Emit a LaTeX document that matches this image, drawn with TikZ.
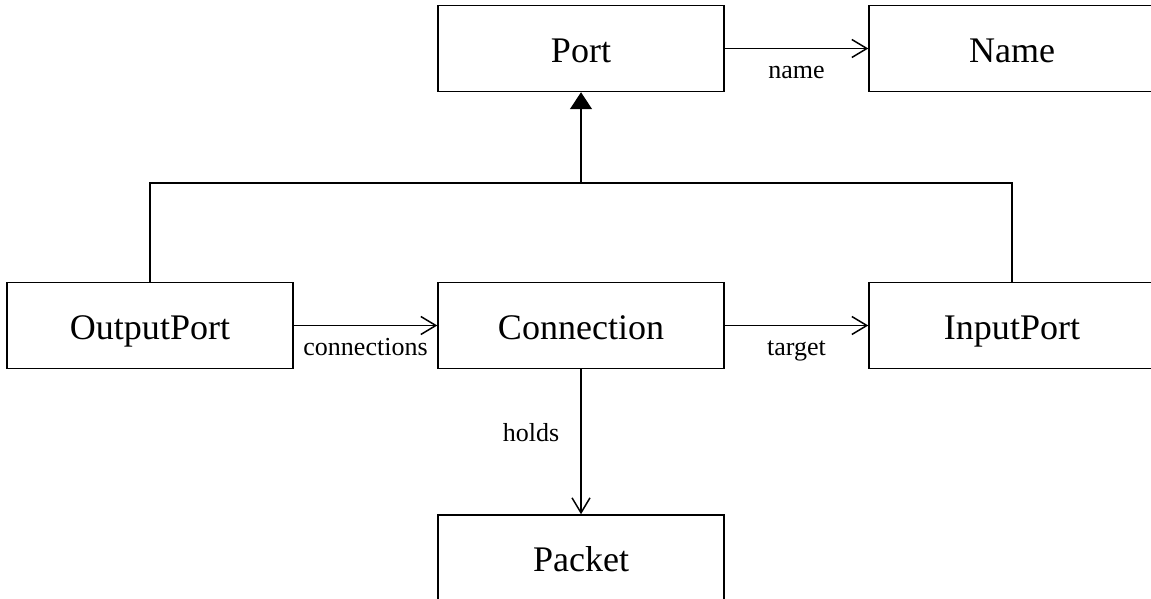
\documentclass[tikz,border=0pt]{standalone}
\usepackage{fontspec}
\setmainfont{Liberation Serif}
\usetikzlibrary{arrows.meta, positioning}

\tikzset{
  cls/.style={draw, line width=0.85pt, minimum width=5.72cm, minimum height=1.72cm,
              text height=18.5pt, text depth=3.1pt,
              font=\fontsize{20.5}{24}\selectfont},
  assoc/.style={line width=0.85pt, -{Straight Barb[length=3mm, width=3.6mm]}},
  lbl/.style={inner sep=0pt, font=\fontsize{14.8}{17}\selectfont},
  lblbelow/.style={lbl, anchor=base, yshift=-0.6cm},
}

\begin{document}
\begin{tikzpicture}[x=0.02cm, y=0.02cm]
  \clip (0,0) rectangle (1151,598);
  % classes
  \node[cls] (port)    at (581,549.5)  {Port};
  \node[cls] (name)    at (1012,549.5) {Name};
  \node[cls] (outport) at (150,272.5)  {OutputPort};
  \node[cls] (conn)    at (581,272.5)  {Connection};
  \node[cls] (inport)  at (1012,272.5) {InputPort};
  \node[cls] (packet)  at (581,40)     {Packet};

  % generalisation
  \coordinate (bus) at (581,415);
  \draw[line width=0.85pt] (outport.north) |- (bus) -| (inport.north);
  \draw[line width=0.85pt, -{Triangle[length=3.4mm, width=4.4mm]}] (bus) -- (port.south);

  % associations
  \draw[assoc] (port) -- node[lblbelow] (lname) {name} (name);
  \draw[assoc] (outport) -- node[lblbelow] (lconn) {connections} (conn);
  \draw[assoc] (conn) -- node[lblbelow] (ltarget) {target} (inport);
  \draw[assoc] (conn) -- node[lbl, anchor=base east, xshift=-0.42cm] (lholds) {holds} (packet);
\end{tikzpicture}
\end{document}
